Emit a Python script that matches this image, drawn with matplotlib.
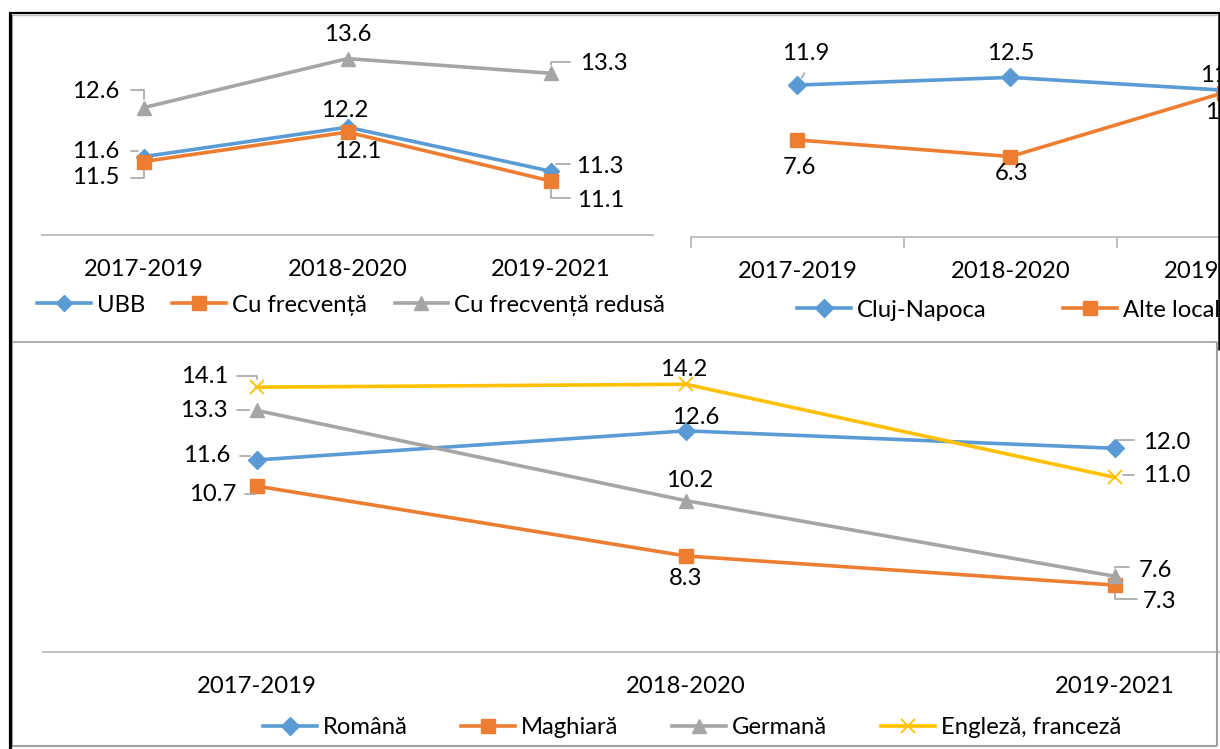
import matplotlib
matplotlib.use('Agg')
import matplotlib.pyplot as plt
from matplotlib.lines import Line2D

plt.rcParams['font.family'] = ['Lato', 'DejaVu Sans']

W, H = 1220, 749
FS = 17.2

periods = ['2017-2019', '2018-2020', '2019-2021']

# chart 1 - UBB
ubb = [11.6, 12.2, 11.3]
cu_frecventa = [11.5, 12.1, 11.1]
cu_frecventa_redusa = [12.6, 13.6, 13.3]

# chart 2 - localitate
cluj = [11.9, 12.5, 11.5]
alte_localitati = [7.6, 6.3, 11.3]

# chart 3 - limba de predare
romana = [11.6, 12.6, 12.0]
maghiara = [10.7, 8.3, 7.3]
germana = [13.3, 10.2, 7.6]
engleza_franceza = [14.1, 14.2, 11.0]

BLUE = '#5B9BD5'
ORANGE = '#ED7D31'
GRAY = '#A5A5A5'
YELLOW = '#FFC000'
AXIS = '#BFBFBF'
LEAD = '#A6A6A6'


def fx(px):
    return px / W


def fy(py):
    return 1 - py / H


def make_ax(x0, x1, y_axis, px_per_unit, ylim):
    height = (ylim[1] - ylim[0]) * px_per_unit
    ax = fig.add_axes([fx(x0), fy(y_axis), (x1 - x0) / W, height / H])
    ax.set_xlim(-0.5, 2.5)
    ax.set_ylim(*ylim)
    ax.patch.set_visible(False)
    for s in ['top', 'right', 'left']:
        ax.spines[s].set_visible(False)
    ax.spines['bottom'].set_color(AXIS)
    ax.spines['bottom'].set_linewidth(1.4)
    ax.set_yticks([])
    ax.set_xticks(range(3), periods, fontsize=FS)
    ax.tick_params(axis='x', length=0, pad=17)
    return ax


def series(ax, vals, color, marker, ms, label):
    kw = dict(color=color, lw=2.6, marker=marker, ms=ms, label=label, clip_on=False)
    if marker == 'x':
        kw.update(mew=1.3)
    else:
        kw.update(mec=color, mfc=color)
    ax.plot(range(3), vals, **kw)


def labels(ax, vals, offs, leads=None, style='angle,angleA=0,angleB=90,rad=0'):
    for i, v in enumerate(vals):
        dx, dy, ha = offs[i]
        ax.annotate(f'{v:.1f}', (i, v), xytext=(dx, dy), textcoords='offset pixels',
                    ha=ha, va='center', fontsize=FS, annotation_clip=False)
        if leads and leads[i]:
            ax.annotate('', (i, v), xytext=leads[i], textcoords='offset pixels',
                        annotation_clip=False,
                        arrowprops=dict(arrowstyle='-', color=LEAD, lw=1.2, shrinkA=0, shrinkB=6,
                                        connectionstyle=style))


def legend(ax, x, y, loc, colsp, ncol):
    ax.legend(loc=loc, bbox_to_anchor=(fx(x), fy(y)), bbox_transform=fig.transFigure,
              ncol=ncol, frameon=False, fontsize=FS, handlelength=2.25, handletextpad=0.25,
              columnspacing=colsp, borderpad=0, borderaxespad=0)


fig = plt.figure(figsize=(W / 100, H / 100), dpi=100)

# ---- chart 1 (top left)
ax1 = make_ax(42, 653, 235, 49, (10, 14.5))
series(ax1, ubb, BLUE, 'D', 8, 'UBB')
series(ax1, cu_frecventa, ORANGE, 's', 10, 'Cu frecvență')
series(ax1, cu_frecventa_redusa, GRAY, '^', 10, 'Cu frecvență redusă')
labels(ax1, cu_frecventa_redusa, [(-24, 16, 'right'), (0, 24, 'center'), (29, 10, 'left')],
       [(-13, 18), None, (19, 11)])
labels(ax1, ubb, [(-24, 5, 'right'), (-3, 17, 'center'), (25, 5, 'left')],
       [(-13, 6), None, (19, 7)])
labels(ax1, cu_frecventa, [(-24, -16, 'right'), (10, -19, 'center'), (26, -19, 'left')],
       [(-13, -16), None, (19, -17)])
legend(ax1, 351, 305, 'center', 1.15, 3)

# ---- chart 2 (top right, cut at the edge)
ax2 = make_ax(691, 1330, 237, 12.77, (0, 16))
ax2.set_xticks([-0.5, 0.5, 1.5, 2.5], minor=True)
ax2.tick_params(axis='x', which='minor', length=8, color=AXIS, width=1.4)
series(ax2, cluj, BLUE, 'D', 9, 'Cluj-Napoca')
series(ax2, alte_localitati, ORANGE, 's', 10, 'Alte localități')
labels(ax2, cluj, [(8, 32, 'center'), (0, 24, 'center'), (0, 15, 'center')],
       [(7, 12), None, None], style='arc3')
labels(ax2, alte_localitati, [(2, -28, 'center'), (1, -17, 'center'), (5, -20, 'center')])
legend(ax2, 797, 310, 'center left', 3.2, 2)

# ---- chart 3 (bottom)
ax3 = make_ax(42.5, 1329.5, 652, 29.1, (5, 15.5))
series(ax3, romana, BLUE, 'D', 9, 'Română')
series(ax3, maghiara, ORANGE, 's', 10, 'Maghiară')
series(ax3, germana, GRAY, '^', 10, 'Germană')
series(ax3, engleza_franceza, YELLOW, 'x', 10, 'Engleză, franceză')
labels(ax3, engleza_franceza, [(-29, 11, 'right'), (-2, 15, 'center'), (28, 2, 'left')],
       [(-20, 11), None, (19, 2)])
labels(ax3, germana, [(-29, 0, 'right'), (4, 20, 'center'), (24, 6, 'left')],
       [(-20, 0), None, (14, 9)])
labels(ax3, romana, [(-27, 4, 'right'), (10, 13, 'center'), (28, 6, 'left')],
       [(-17, 4), None, (19, 8)])
labels(ax3, maghiara, [(-21, -8, 'right'), (0, -23, 'center'), (28, -16, 'left')],
       [(-12, -8), None, (22, -14)])
legend(ax3, 263, 728, 'center left', 2.25, 4)

# ---- frames
def fline(xs, ys, color, lw):
    fig.add_artist(Line2D([fx(x) for x in xs], [fy(y) for y in ys], color=color, lw=lw,
                          transform=fig.transFigure, solid_capstyle='butt'))


fline([12.5, 12.5], [15, 746], '#A0A0A0', 1.2)
fline([12, 1217], [15, 15], '#C0C0C0', 1.0)
fline([12, 1217], [342, 342], '#A0A0A0', 1.2)
fline([12, 1217], [746, 746], '#A0A0A0', 1.5)
fline([1217, 1217], [342, 746], '#A0A0A0', 1.5)
fline([9.5, 9.5], [12, 749], 'black', 2.3)
fline([8.5, 1220], [12.8, 12.8], 'black', 1.6)
fline([1219, 1219], [12, 350], 'black', 1.8)

fig.savefig('out.png', dpi=100)
